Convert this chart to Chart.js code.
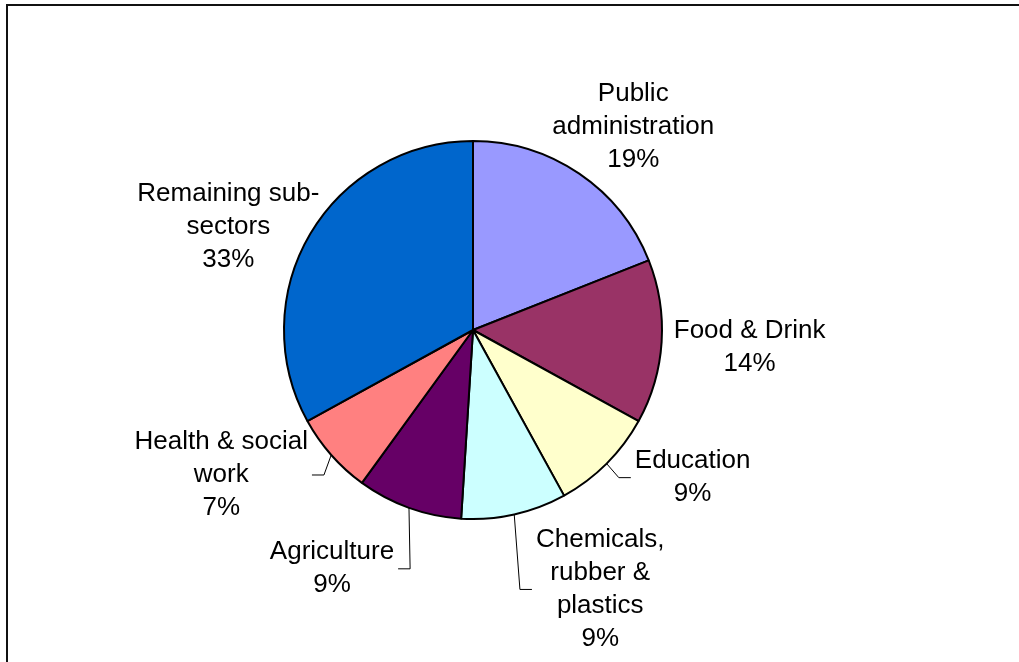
<!DOCTYPE html>
<html>
<head>
<meta charset="utf-8">
<title>Employment by sub-sector</title>
<script src="https://cdn.jsdelivr.net/npm/chart.js@4"></script>
<style>
    html, body {
        margin: 0;
        padding: 0;
        background: #ffffff;
    }
    #wrap {
        width: 1019px;
        height: 662px;
    }
</style>
</head>
<body>
<div id="wrap"><canvas id="myChart" width="1019" height="662"></canvas></div>
<script>
// sub-sectors, clockwise from 12 o'clock ("\n" = label line break)
const sectors = [
    "Public\nadministration",
    "Food & Drink",
    "Education",
    "Chemicals,\nrubber &\nplastics",
    "Agriculture",
    "Health & social\nwork",
    "Remaining sub-\nsectors",
];
const shares = [19, 14, 9, 9, 9, 7, 33];
const colours = ["#9999FF", "#993366", "#FFFFCC", "#CCFFFF", "#660066", "#FF8080", "#0066CC"];

// where each label sits relative to the rim at the middle of its slice
const labelShift = [
    [54, -47],
    [88, 5],
    [86, 14],
    [86, 75],
    [-77, 61],
    [-110, 20],
    [-82, -7],
];
const hasLeader = [false, false, true, true, true, true, false];

const FONT = "26px 'Liberation Sans', Arial, sans-serif";
const LINE_H = 33;

const frame = {
    id: "frame",
    beforeDraw(chart) {
        const c = chart.ctx;
        c.save();
        c.fillStyle = "#ffffff";
        c.fillRect(0, 0, chart.width, chart.height);
        c.strokeStyle = "#111111";
        c.lineWidth = 2;
        c.beginPath();
        c.moveTo(chart.width, 5);
        c.lineTo(7, 5);
        c.lineTo(7, chart.height);
        c.stroke();
        c.restore();
    },
};

const sliceLabels = {
    id: "sliceLabels",
    afterDatasetsDraw(chart) {
        const c = chart.ctx;
        const arcs = chart.getDatasetMeta(0).data;
        c.save();
        c.font = FONT;
        c.fillStyle = "#000000";
        c.textAlign = "center";
        c.textBaseline = "middle";

        arcs.forEach((arc, i) => {
            const p = arc.getProps(["x", "y", "startAngle", "endAngle", "outerRadius"], true);
            const mid = (p.startAngle + p.endAngle) / 2;
            const rimX = p.x + Math.cos(mid) * p.outerRadius;
            const rimY = p.y + Math.sin(mid) * p.outerRadius;
            const cx = rimX + labelShift[i][0];
            const cy = rimY + labelShift[i][1];

            const lines = sectors[i].split("\n").concat([shares[i] + "%"]);
            const top = cy - ((lines.length - 1) / 2) * LINE_H;
            lines.forEach((t, k) => c.fillText(t, cx, top + k * LINE_H));

            if (hasLeader[i]) {
                const half = Math.max(...lines.map((t) => c.measureText(t).width)) / 2;
                const dir = cx > rimX ? 1 : -1;
                const endX = cx - dir * (half + 4);
                const elbowX = endX - dir * 12;
                c.save();
                c.strokeStyle = "#000000";
                c.lineWidth = 1;
                c.beginPath();
                c.moveTo(rimX, rimY);
                c.lineTo(elbowX, cy);
                c.lineTo(endX, cy);
                c.stroke();
                c.restore();
            }
        });
        c.restore();
    },
};

new Chart(document.getElementById("myChart"), {
    type: "pie",
    data: {
        labels: sectors,
        datasets: [
            {
                data: shares,
                backgroundColor: colours,
                borderColor: "#000000",
                borderWidth: 2,
            },
        ],
    },
    options: {
        responsive: false,
        animation: false,
        radius: 189,
        layout: {
            padding: { left: 0, right: 73, top: 0, bottom: 2 },
        },
        plugins: {
            legend: { display: false },
            tooltip: { enabled: false },
        },
    },
    plugins: [frame, sliceLabels],
});
</script>
</body>
</html>
